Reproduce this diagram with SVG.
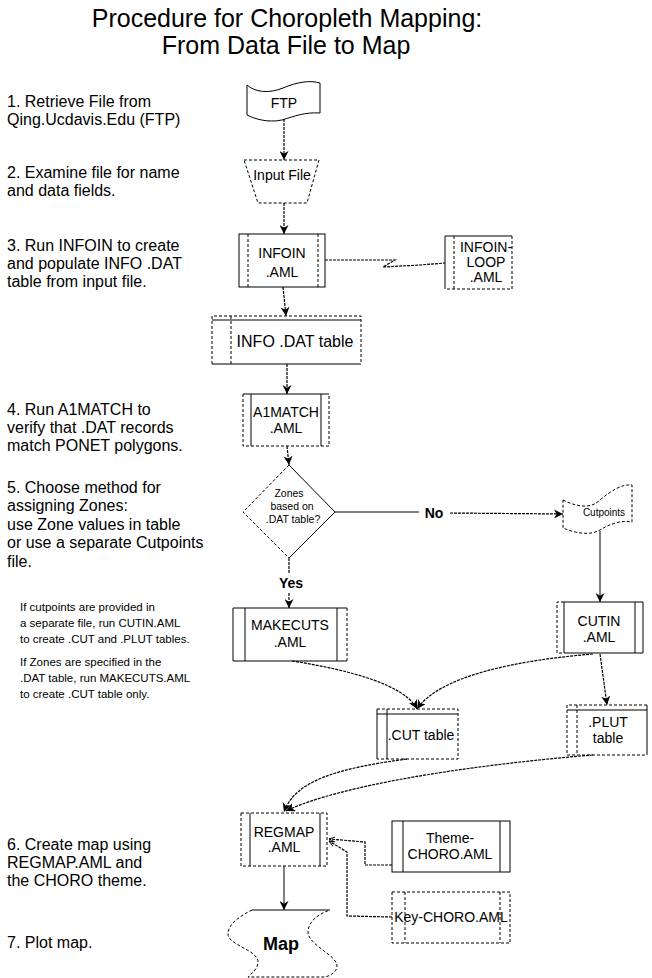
<svg xmlns="http://www.w3.org/2000/svg" width="652" height="978" viewBox="0 0 652 978">
<style>
text{font-family:"Liberation Sans",Arial,sans-serif;fill:#000}
.t{font-size:16px}
.sm{font-size:11.5px}
.n{font-size:14px;text-anchor:middle}
.title{font-size:25px;text-anchor:middle}
.b{font-weight:bold}
.s{fill:none;stroke:#000;stroke-width:1}
.d{fill:none;stroke:#000;stroke-width:1;stroke-dasharray:3 2}
.c{fill:none;stroke:#000;stroke-width:1.2;stroke-dasharray:3 1}
.cs{fill:none;stroke:#000;stroke-width:1}
</style>
<defs>
<marker id="ah" viewBox="0 0 10 10" refX="10" refY="5" markerWidth="9" markerHeight="9" markerUnits="userSpaceOnUse" orient="auto">
<path d="M0,0 L10,5 L0,10 L3,5 z" fill="#000"/>
</marker>
<marker id="sa" viewBox="0 0 10 10" refX="10" refY="5" markerWidth="6" markerHeight="6" markerUnits="userSpaceOnUse" orient="auto">
<path d="M0,1 L10,5 L0,9" fill="none" stroke="#000" stroke-width="1.5"/>
</marker>
</defs>
<rect width="652" height="978" fill="#fff"/>

<g id="title">
<text class="title" x="287" y="27">Procedure for Choropleth Mapping:</text>
<text class="title" x="286" y="54">From Data File to Map</text>
</g>

<g id="steps">
<text class="t" x="7" y="107">1. Retrieve File from</text>
<text class="t" x="7" y="125">Qing.Ucdavis.Edu (FTP)</text>
<text class="t" x="7" y="178">2. Examine file for name</text>
<text class="t" x="7" y="196">and data fields.</text>
<text class="t" x="7" y="251">3. Run INFOIN to create</text>
<text class="t" x="7" y="269">and populate INFO .DAT</text>
<text class="t" x="7" y="287">table from input file.</text>
<text class="t" x="7" y="415">4. Run A1MATCH to</text>
<text class="t" x="7" y="433">verify that .DAT records</text>
<text class="t" x="7" y="451">match PONET polygons.</text>
<text class="t" x="7" y="493">5. Choose method for</text>
<text class="t" x="7" y="511">assigning Zones:</text>
<text class="t" x="7" y="530">use Zone values in table</text>
<text class="t" x="7" y="548">or use a separate Cutpoints</text>
<text class="t" x="7" y="567">file.</text>
<text class="sm" x="20" y="611">If cutpoints are provided in</text>
<text class="sm" x="20" y="627">a separate file, run CUTIN.AML</text>
<text class="sm" x="20" y="643">to create .CUT and .PLUT tables.</text>
<text class="sm" x="20" y="666">If Zones are specified in the</text>
<text class="sm" x="20" y="682">.DAT table, run MAKECUTS.AML</text>
<text class="sm" x="20" y="698">to create .CUT table only.</text>
<text class="t" x="7" y="850">6. Create map using</text>
<text class="t" x="7" y="868">REGMAP.AML and</text>
<text class="t" x="7" y="886">the CHORO theme.</text>
<text class="t" x="7" y="948">7. Plot map.</text>
</g>

<g id="connectors">
<path class="c" d="M284,119 L284,160" marker-end="url(#ah)"/>
<path class="c" d="M284,203 L284,234" marker-end="url(#ah)"/>
<path class="c" d="M325,260 L395,260 L383,267 L420,265 L445,263"/>
<path class="c" d="M283,287 L286,316" marker-end="url(#ah)"/>
<path class="c" d="M287,364 L287,394" marker-end="url(#ah)"/>
<path class="c" d="M287,446 L289,465" marker-end="url(#ah)"/>
<path class="c" d="M289,558 L289,573"/>
<path class="c" d="M289,593 L289,608" marker-end="url(#ah)"/>
<path class="cs" d="M335,512 L419,512"/>
<path class="c" d="M450,513 L563,514" marker-end="url(#ah)"/>
<path class="cs" d="M600,531 L600,602" marker-end="url(#ah)"/>
<path class="c" d="M292,661 C350,670 405,685 417,709" marker-end="url(#ah)"/>
<path class="c" d="M593,654 C520,660 440,675 417,709" marker-end="url(#ah)"/>
<path class="c" d="M600,654 L607,705" marker-end="url(#ah)"/>
<path class="c" d="M407,759 C340,768 295,780 284,812" marker-end="url(#ah)"/>
<path class="c" d="M593,755 C470,765 340,785 286,811" marker-end="url(#ah)"/>
<path class="cs" d="M284,866 L284,910" marker-end="url(#ah)"/>
<path class="c" d="M392,865 L365,865 L365,842 L329,839" marker-end="url(#sa)"/>
<path class="c" d="M392,917 L347,916 L347,852 L329,841" marker-end="url(#sa)"/>
</g>

<g id="ftp">
<path class="s" d="M247,85 C255,92 268,94 283,88 C297,82 310,80 320,83 L320,113 C305,112 295,116 282,120 C268,123 255,119 247,115 Z"/>
<text class="n" x="284" y="108">FTP</text>
</g>

<g id="input-file">
<path class="d" d="M244,160 L319,160 L307,203 L258,203 Z"/>
<text class="n" x="282" y="180">Input File</text>
</g>

<g id="infoin">
<rect class="s" x="239" y="234" width="86" height="53"/>
<path class="d" d="M248,234 V287 M318,234 V287"/>
<text class="n" x="282" y="258">INFOIN</text>
<text class="n" x="282" y="277">.AML</text>
</g>

<g id="infoin-loop">
<path class="s" d="M445,289 V236 H512"/>
<path class="d" d="M512,236 V289 H445 M454,236 V289"/>
<text class="n" x="486" y="252">INFOIN-</text>
<text class="n" x="486" y="267">LOOP</text>
<text class="n" x="486" y="282">.AML</text>
</g>

<g id="info-dat">
<path class="d" d="M212,364 V316 H361 V364 M231,316 V364"/>
<path class="s" d="M212,320 H361 M212,364 H361"/>
<text class="n" x="295" y="347" style="font-size:16px">INFO .DAT table</text>
</g>

<g id="a1match">
<path class="s" d="M243,394 H329 M251,394 V446 M321,394 V446"/>
<path class="d" d="M243,394 V446 H329 V394"/>
<text class="n" x="286" y="417">A1MATCH</text>
<text class="n" x="286" y="433">.AML</text>
</g>

<g id="decision">
<path class="d" d="M289,465 L243,512 L289,558"/>
<path class="s" d="M289,465 L335,512 L289,558"/>
<text class="n" x="289" y="497" style="font-size:10.5px">Zones</text>
<text class="n" x="292" y="510" style="font-size:10.5px">based on</text>
<text class="n" x="293" y="523" style="font-size:10.5px">.DAT table?</text>
</g>

<g id="yes-label">
<text class="n b" x="291" y="588">Yes</text>
</g>
<g id="no-label">
<text class="n b" x="434" y="518">No</text>
</g>

<g id="cutpoints">
<path class="d" d="M563,500 C575,506 590,510 600,500 C612,490 622,484 632,485 L632,522 C620,520 610,524 600,530 C590,536 575,533 563,528 Z"/>
<text x="604" y="516" style="font-size:10px;text-anchor:middle">Cutpoints</text>
</g>

<g id="makecuts">
<path class="s" d="M347,608 H233 V661 H347 M245,608 V661 M337,608 V661"/>
<path class="d" d="M347,608 V661"/>
<text class="n" x="290" y="630">MAKECUTS</text>
<text class="n" x="290" y="647">.AML</text>
</g>

<g id="cutin">
<path class="s" d="M564,602 H643 V653 H564 M564,602 V653 M635,602 V653"/>
<path class="d" d="M564,602 H557 V653 H564"/>
<text class="n" x="599" y="626">CUTIN</text>
<text class="n" x="599" y="642">.AML</text>
</g>

<g id="cut-table">
<path class="d" d="M377,709 H458 V759 H377"/>
<path class="s" d="M377,709 V759 M377,714 H458 M387,709 V759"/>
<text class="n" x="421" y="740">.CUT table</text>
</g>

<g id="plut-table">
<path class="d" d="M647,705 H567 V755 H647 M577,705 V755"/>
<path class="s" d="M567,710 H647 M647,705 V755"/>
<text class="n" x="608" y="727">.PLUT</text>
<text class="n" x="608" y="743">table</text>
</g>

<g id="regmap">
<rect class="d" x="241" y="813" width="86" height="53"/>
<path class="s" d="M250,813 V866 M320,813 V866"/>
<text class="n" x="284" y="837">REGMAP</text>
<text class="n" x="284" y="852">.AML</text>
</g>

<g id="theme-choro">
<rect class="s" x="392" y="821" width="118" height="51"/>
<path class="s" d="M403,821 V872 M500,821 V872"/>
<text class="n" x="450" y="843">Theme-</text>
<text class="n" x="450" y="859">CHORO.AML</text>
</g>

<g id="key-choro">
<rect class="d" x="392" y="892" width="118" height="51"/>
<path class="d" d="M405,892 V943 M500,892 V943"/>
<text class="n" x="451" y="922">Key-CHORO.AML</text>
</g>

<g id="map">
<path class="s" d="M252,910 H330"/>
<path class="d" d="M252,910 C240,916 228,924 228,934 C228,945 258,950 258,962 C258,970 250,974 248,977 H325 C330,976 337,972 337,966 C337,955 308,945 308,932 C308,922 318,914 330,910"/>
<text class="n b" x="281" y="950" style="font-size:18px">Map</text>
</g>
</svg>
